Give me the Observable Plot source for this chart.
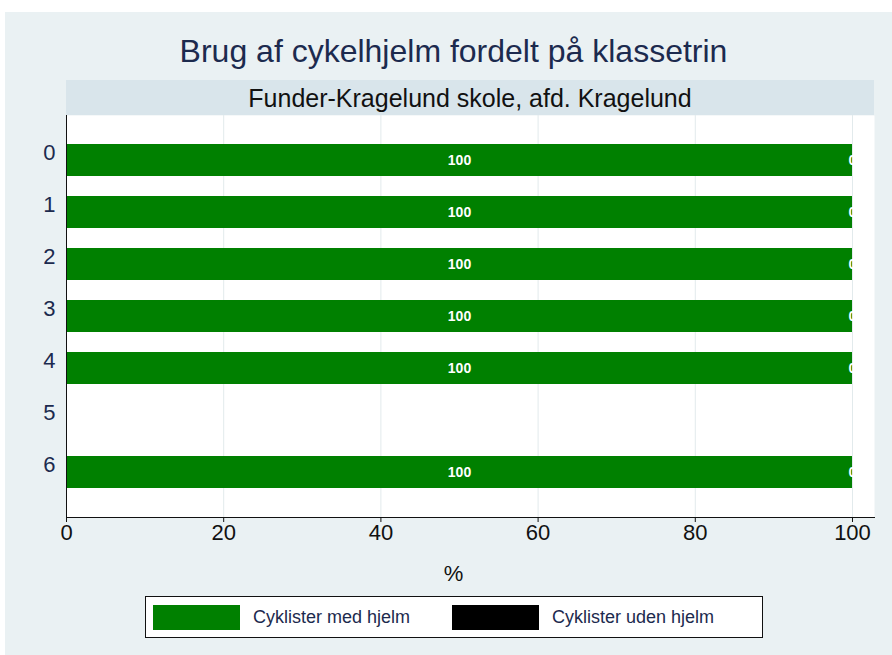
<!DOCTYPE html>
<html>
<head>
<meta charset="utf-8">
<script src="https://cdn.jsdelivr.net/npm/d3@7"></script>
<script src="https://cdn.jsdelivr.net/npm/@observablehq/plot@0.6"></script>
<style>
  html, body { margin: 0; padding: 0; background: #ffffff; }
  body { width: 892px; height: 655px; position: relative; overflow: hidden; font-family: "Liberation Sans", Arial, sans-serif; }
  #panel { position: absolute; left: 5px; top: 12px; right: 0; bottom: 0; background: #eaf1f3; }
  #title { position: absolute; left: 10px; width: 887px; top: 35px; text-align: center; font-size: 32px; line-height: 32px; color: #1c2a4e; }
  #band { position: absolute; left: 66px; width: 808px; top: 80px; height: 35px; background: #d9e5eb; text-align: center; font-size: 25px; line-height: 36px; color: #111; }
  #chart { position: absolute; left: 0; top: 105px; }
  #xlabel { position: absolute; left: 10px; width: 887px; top: 563px; text-align: center; font-size: 22px; line-height: 22px; color: #111; }
  #legend { position: absolute; left: 145px; top: 596px; width: 616px; height: 40px; background: #fff; border: 1px solid #111; }
  .sw { position: absolute; top: 8px; width: 87px; height: 25px; }
  .lb { position: absolute; top: 8px; height: 25px; line-height: 25px; font-size: 18px; color: #1c2a4e; }
</style>
</head>
<body>
<div id="panel"></div>
<div id="title">Brug af cykelhjelm fordelt på klassetrin</div>
<div id="band">Funder-Kragelund skole, afd. Kragelund</div>
<div id="chart"></div>
<div id="xlabel">%</div>
<div id="legend"></div>
<script>
// ---- data ----
const grades = ["0", "1", "2", "3", "4", "5", "6"];
const withHelmet = [100, 100, 100, 100, 100, null, 100];
const withoutHelmet = [0, 0, 0, 0, 0, null, 0];
const seriesNames = ["Cyklister med hjelm", "Cyklister uden hjelm"];
const seriesColors = ["#008000", "#000000"];
const xTicks = [0, 20, 40, 60, 80, 100];
const xAxisLabel = "%";

// table built from the arrays
const rows = [];
grades.forEach((g, i) => {
  if (withHelmet[i] != null) rows.push({grade: g, series: seriesNames[0], value: withHelmet[i]});
  if (withoutHelmet[i] != null) rows.push({grade: g, series: seriesNames[1], value: withoutHelmet[i]});
});

const font = "'Liberation Sans', Arial, sans-serif";

const chart = Plot.plot({
  width: 892,
  height: 480,
  marginLeft: 66,
  marginRight: 18,
  marginTop: 10,
  marginBottom: 68,
  style: {background: "transparent", fontFamily: font, color: "#111"},
  x: {domain: [0, 102.8], axis: null},
  y: {domain: grades, paddingInner: 0.385, paddingOuter: 0.55, axis: null},
  color: {domain: seriesNames, range: seriesColors},
  marks: [
    Plot.frame({fill: "white", stroke: null}),
    Plot.gridX(xTicks, {stroke: "#e2eaec", strokeOpacity: 1}),
    Plot.barX(rows, {x: "value", y: "grade", fill: "series"}),
    Plot.text(rows, Plot.stackX({x: "value", y: "grade", z: "series", text: d => String(d.value), fill: "white", fontSize: 14, fontWeight: "bold"})),
    Plot.frame({anchor: "left", stroke: "#111"}),
    Plot.frame({anchor: "bottom", stroke: "#111"}),
    Plot.axisX(xTicks, {anchor: "bottom", tickSize: 5, tickPadding: 2, fontSize: 22, label: null, stroke: "#111", fill: "#111"}),
    Plot.axisY({anchor: "left", tickSize: 0, tickPadding: 11, fontSize: 22, dy: -8, label: null, fill: "#1c2a4e"})
  ]
});
document.getElementById("chart").appendChild(chart);
document.getElementById("xlabel").textContent = xAxisLabel;

// legend
const legend = document.getElementById("legend");
const swLeft = [7, 306];
const lbLeft = [107, 406];
seriesNames.forEach((name, i) => {
  const sw = document.createElement("div");
  sw.className = "sw";
  sw.style.left = swLeft[i] + "px";
  sw.style.background = seriesColors[i];
  legend.appendChild(sw);
  const lb = document.createElement("div");
  lb.className = "lb";
  lb.style.left = lbLeft[i] + "px";
  lb.textContent = name;
  legend.appendChild(lb);
});
</script>
</body>
</html>
